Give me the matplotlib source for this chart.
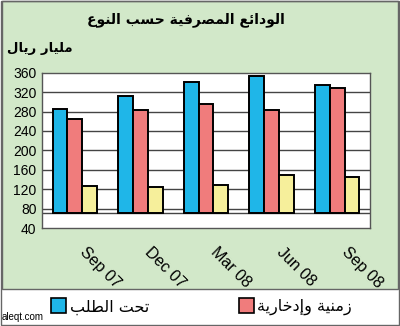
import numpy as np
import matplotlib
matplotlib.use("Agg")
import matplotlib.pyplot as plt
from matplotlib.patches import Rectangle

# data (billion riyal)
quarters = ["Sep 07", "Dec 07", "Mar 08", "Jun 08", "Sep 08"]
demand = [286, 313, 340, 353, 335]        # تحت الطلب
time_savings = [265, 284, 296, 284, 328]  # زمنية وإدخارية
other = [126, 124, 128, 149, 145]
y_ticks = [40, 80, 120, 160, 200, 240, 280, 320, 360]
floor = 71

title_txt = "الودائع المصرفية حسب النوع"
unit_txt = "مليار ريال"
legend_txt = ["تحت الطلب", "زمنية وإدخارية"]

# presentation forms: isolated, final, initial, medial (None = right-joining only)
FORMS = {
    "ا": (0xFE8D, 0xFE8E, None, None), "إ": (0xFE87, 0xFE88, None, None),
    "ب": (0xFE8F, 0xFE90, 0xFE91, 0xFE92), "ة": (0xFE93, 0xFE94, None, None),
    "ت": (0xFE95, 0xFE96, 0xFE97, 0xFE98), "ح": (0xFEA1, 0xFEA2, 0xFEA3, 0xFEA4),
    "خ": (0xFEA5, 0xFEA6, 0xFEA7, 0xFEA8), "د": (0xFEA9, 0xFEAA, None, None),
    "ر": (0xFEAD, 0xFEAE, None, None), "ز": (0xFEAF, 0xFEB0, None, None),
    "س": (0xFEB1, 0xFEB2, 0xFEB3, 0xFEB4), "ص": (0xFEB9, 0xFEBA, 0xFEBB, 0xFEBC),
    "ط": (0xFEC1, 0xFEC2, 0xFEC3, 0xFEC4), "ع": (0xFEC9, 0xFECA, 0xFECB, 0xFECC),
    "ف": (0xFED1, 0xFED2, 0xFED3, 0xFED4), "ل": (0xFEDD, 0xFEDE, 0xFEDF, 0xFEE0),
    "م": (0xFEE1, 0xFEE2, 0xFEE3, 0xFEE4), "ن": (0xFEE5, 0xFEE6, 0xFEE7, 0xFEE8),
    "و": (0xFEED, 0xFEEE, None, None), "ي": (0xFEF1, 0xFEF2, 0xFEF3, 0xFEF4),
    "ئ": (0xFE89, 0xFE8A, 0xFE8B, 0xFE8C),
}


def shape(text):
    # join letters and put them in visual (left to right) order
    out = []
    for i, ch in enumerate(text):
        if ch not in FORMS:
            out.append(ch)
            continue
        prev = text[i - 1] if i > 0 else ""
        nxt = text[i + 1] if i + 1 < len(text) else ""
        join_prev = prev in FORMS and FORMS[prev][2] is not None
        join_next = FORMS[ch][2] is not None and nxt in FORMS
        iso, fin, ini, med = FORMS[ch]
        if join_prev and join_next:
            code = med
        elif join_prev:
            code = fin
        elif join_next:
            code = ini
        else:
            code = iso
        out.append(chr(code))
    return "".join(out[::-1])


plt.rcParams['font.family'] = ['Liberation Sans', 'DejaVu Sans']

fig = plt.figure(figsize=(4, 3.26), dpi=100)
fig.patch.set_facecolor("white")
fig.patches.append(Rectangle((0.004, 0.113), 0.992, 0.884, transform=fig.transFigure,
                             facecolor="#d2e8c9", edgecolor="#666666", lw=1, zorder=-2))
fig.patches.append(Rectangle((0.002, 0.002), 0.996, 0.996, transform=fig.transFigure,
                             facecolor="none", edgecolor="#666666", lw=1, zorder=-2))

ax = fig.add_axes([0.105, 0.3006, 0.82, 0.4764])
ax.set_facecolor("white")
x = np.arange(len(quarters))
w = 0.225
colors = ["#1fb6e8", "#f07c7c", "#f6ef9b"]
for k, (vals, c) in enumerate(zip([demand, time_savings, other], colors)):
    ax.bar(x + (k - 1) * w, np.array(vals) - floor, w, bottom=floor, color=c,
           edgecolor="black", lw=1.4, zorder=3)

for t in y_ticks[1:-1]:
    ax.axhline(t, color="#444444", lw=1, zorder=1)
ax.axhline(floor, color="#444444", lw=1, zorder=1)

ax.set_xlim(-0.5, len(quarters) - 0.5)
ax.set_ylim(40, 360)
ax.set_yticks(y_ticks)
ax.set_yticklabels([str(t) for t in y_ticks], fontsize=10)
ax.set_xticks(x + 0.19)
ax.set_xticklabels(quarters, rotation=-45, ha="left", va="top", fontsize=11.5,
                   rotation_mode="anchor")
ax.tick_params(length=0, pad=4)
ax.tick_params(axis="x", pad=12)
for s in ax.spines.values():
    s.set_color("#555555")
    s.set_linewidth(1)

fig.text(0.465, 0.94, shape(title_txt), family="DejaVu Sans", weight="bold",
         fontsize=10, ha="center", va="center")
fig.text(0.10, 0.85, shape(unit_txt), family="DejaVu Sans", weight="bold",
         fontsize=9.5, ha="center", va="center")

# legend band
fig.patches.append(Rectangle((0.128, 0.04), 0.037, 0.046, transform=fig.transFigure,
                             facecolor=colors[0], edgecolor="black", lw=1.2))
fig.text(0.175, 0.058, shape(legend_txt[0]), family="DejaVu Sans", fontsize=11.5,
         ha="left", va="center")
fig.patches.append(Rectangle((0.598, 0.04), 0.037, 0.046, transform=fig.transFigure,
                             facecolor=colors[1], edgecolor="black", lw=1.2))
fig.text(0.643, 0.058, shape(legend_txt[1]), family="DejaVu Sans", fontsize=11.5,
         ha="left", va="center")
fig.text(0.005, 0.012, "aleqt.com", fontsize=7, ha="left", va="bottom")

fig.savefig("out.png", dpi=100)
